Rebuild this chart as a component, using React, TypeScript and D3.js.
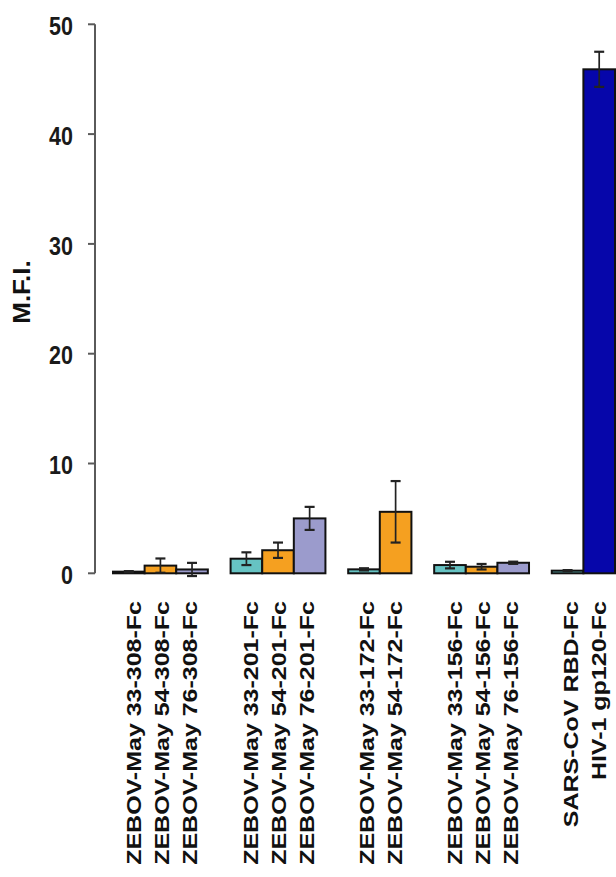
import React from "react";
import * as d3 from "d3";

// Antibody / control constructs, one entry per bar
const barLabels = [
  "ZEBOV-May 33-308-Fc",
  "ZEBOV-May 54-308-Fc",
  "ZEBOV-May 76-308-Fc",
  "ZEBOV-May 33-201-Fc",
  "ZEBOV-May 54-201-Fc",
  "ZEBOV-May 76-201-Fc",
  "ZEBOV-May 33-172-Fc",
  "ZEBOV-May 54-172-Fc",
  "ZEBOV-May 33-156-Fc",
  "ZEBOV-May 54-156-Fc",
  "ZEBOV-May 76-156-Fc",
  "SARS-CoV RBD-Fc",
  "HIV-1 gp120-Fc",
];
// Cluster each bar belongs to
const barGroups = [0, 0, 0, 1, 1, 1, 2, 2, 3, 3, 3, 4, 4];
// Mean fluorescence intensity and its error
const mfiValues = [0.15, 0.7, 0.35, 1.33, 2.1, 5.0, 0.36, 5.6, 0.75, 0.6, 0.96, 0.24, 45.9];
const mfiErrors = [0.05, 0.65, 0.6, 0.58, 0.7, 1.05, 0.1, 2.8, 0.3, 0.25, 0.1, 0.05, 1.6];
// Fill key per bar
const barKinds = ["c33", "c54", "c76", "c33", "c54", "c76", "c33", "c54", "c33", "c54", "c76", "c33", "hiv"];
const kindColors: Record<string, string> = {
  c33: "#66c3c3",
  c54: "#f5a020",
  c76: "#9b9bcc",
  hiv: "#0606aa",
};
const yTicks = [0, 10, 20, 30, 40, 50];
const yTitle = "M.F.I.";

const W = 616;
const H = 877;
const FONT = "'Liberation Sans', Arial, Helvetica, sans-serif";

export default function App() {
  const y = d3.scaleLinear().domain([0, 50]).range([573.3, 24.3]);

  // Bars sit side by side inside a cluster; clusters are separated by a gap
  const gapUnits = 0.72;
  const nGroups = d3.max(barGroups)! + 1;
  const totalUnits = barLabels.length + (nGroups - 1) * gapUnits;
  const x = d3.scaleLinear().domain([0, totalUnits]).range([113, 615]);
  const unitPos = barGroups.map((g, i) => i + g * gapUnits);
  const barW = x(1) - x(0);

  const axisX = 95;
  const tickLen = 7;

  // Label positions: lines of each cluster centred on the cluster
  const labelStep = 28;
  const labelLines: { text: string; cx: number }[] = [];
  for (let g = 0; g < nGroups; g++) {
    const idx = barGroups.map((gg, i) => (gg === g ? i : -1)).filter((i) => i >= 0);
    const left = x(unitPos[idx[0]]);
    const right = x(unitPos[idx[idx.length - 1]] + 1);
    const center = (left + right) / 2 + 1;
    idx.forEach((i, k) => {
      labelLines.push({
        text: barLabels[i],
        cx: center + (k - (idx.length - 1) / 2) * labelStep,
      });
    });
  }

  return (
    <svg
      width={W}
      height={H}
      viewBox={`0 0 ${W} ${H}`}
      style={{ position: "absolute", left: 0, top: 0, background: "#fff" }}
    >
      <rect x={0} y={0} width={W} height={H} fill="#fff" />

      {/* y axis */}
      <line x1={axisX} x2={axisX} y1={y(50)} y2={y(0)} stroke="#5a5a5a" strokeWidth={2} />
      {yTicks.map((t) => (
        <g key={t}>
          <line x1={axisX - tickLen} x2={axisX} y1={y(t)} y2={y(t)} stroke="#5a5a5a" strokeWidth={2} />
          <text
            transform={`translate(${axisX - 22},${y(t) + 2}) scale(0.86,1)`}
            textAnchor="end"
            dy="0.35em"
            fontFamily={FONT}
            fontWeight="bold"
            fontSize={25}
            fill="#1a1a1a"
          >
            {t}
          </text>
        </g>
      ))}
      <text
        transform={`translate(21.5,292) scale(0.92,1) rotate(-90)`}
        textAnchor="middle"
        dy="0.35em"
        fontFamily={FONT}
        fontWeight="bold"
        fontSize={26}
        fill="#111"
      >
        {yTitle}
      </text>

      {/* bars */}
      {mfiValues.map((v, i) => {
        const x0 = x(unitPos[i]);
        return (
          <rect
            key={i}
            x={x0}
            y={y(v)}
            width={barW}
            height={y(0) - y(v)}
            fill={kindColors[barKinds[i]]}
            stroke="#111"
            strokeWidth={2}
          />
        );
      })}

      {/* error bars */}
      {mfiValues.map((v, i) => {
        const cx = x(unitPos[i]) + barW / 2;
        const e = mfiErrors[i];
        const yt = y(v + e);
        const yb = y(v - e);
        return (
          <g key={i} stroke="#222" strokeWidth={1.7}>
            <line x1={cx} x2={cx} y1={yt} y2={yb} />
            <line x1={cx - 5} x2={cx + 5} y1={yt} y2={yt} strokeWidth={2.2} />
            <line x1={cx - 5} x2={cx + 5} y1={yb} y2={yb} strokeWidth={2.2} />
          </g>
        );
      })}

      {/* category labels */}
      {labelLines.map((l, i) => (
        <text
          key={i}
          transform={`translate(${l.cx},601) scale(0.81,1) rotate(-90)`}
          textAnchor="end"
          dy="0.36em"
          fontFamily={FONT}
          fontWeight="bold"
          fontSize={25}
          fill="#111"
        >
          {l.text}
        </text>
      ))}
    </svg>
  );
}
